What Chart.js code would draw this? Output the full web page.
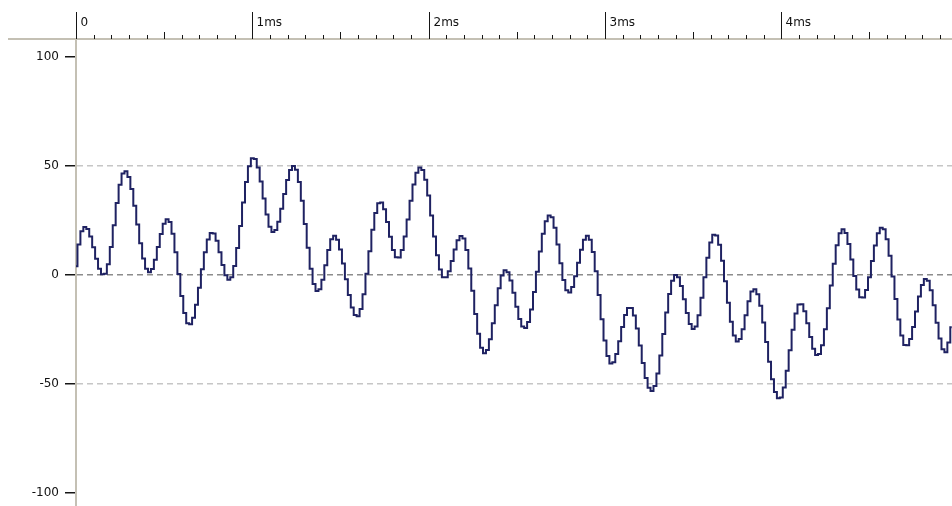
<!DOCTYPE html>
<html>
<head>
<meta charset="utf-8">
<title>Waveform</title>
<script src="https://cdn.jsdelivr.net/npm/chart.js@4.4.1/dist/chart.umd.min.js"></script>
<style>
  html, body { margin: 0; padding: 0; background: #ffffff; }
  canvas { display: block; }
</style>
</head>
<body>
<canvas id="wave" width="952" height="506"></canvas>
<script>
// Sample spacing of the recording, in milliseconds (60 samples per ms).
const sampleStepMs = 1 / 60;

// Sample amplitudes, one array per millisecond of the capture.
const ms0 = [4, 14, 20, 22, 21.1, 17.7, 12.7, 7.4, 2.9, 0.3,
  0.6, 4.9, 12.8, 22.8, 33.0, 41.4, 46.6, 47.6, 44.9, 39.4,
  31.8, 23.1, 14.6, 7.5, 2.8, 1.2, 2.7, 7.0, 12.8, 18.8,
  23.5, 25.6, 24.3, 18.9, 10.4, 0.4, -9.6, -17.5, -22.1, -22.6,
  -19.6, -13.7, -5.9, 2.6, 10.4, 16.3, 19.3, 19.0, 15.7, 10.4,
  4.6, -0.1, -2.2, -1.0, 4.1, 12.4, 22.5, 33.2, 42.7, 49.9];
const ms1 = [53.5, 53.2, 49.3, 42.9, 35.1, 27.7, 22.1, 19.7, 20.6, 24.4,
  30.4, 37.2, 43.6, 48.1, 50.0, 48.3, 42.7, 34.0, 23.4, 12.5,
  2.9, -4.1, -7.4, -6.6, -2.2, 4.5, 11.4, 16.4, 18.0, 16.2,
  11.7, 5.3, -2.0, -9.2, -14.9, -18.4, -18.9, -15.6, -8.8, 0.5,
  10.9, 20.7, 28.4, 32.9, 33.3, 30.1, 24.3, 17.5, 11.5, 8.1,
  8.0, 11.4, 17.6, 25.5, 34.0, 41.5, 46.9, 49.3, 48.2, 43.7];
const ms2 = [36.4, 27.3, 17.7, 9.0, 2.5, -1.0, -1.1, 1.7, 6.4, 11.7,
  15.9, 17.9, 16.7, 11.4, 3.0, -7.3, -17.9, -27.0, -33.4, -35.9,
  -34.4, -29.5, -22.2, -13.9, -6.1, -0.3, 2.2, 1.3, -2.5, -8.2,
  -14.6, -20.2, -23.7, -24.3, -21.6, -15.9, -7.8, 1.5, 10.8, 18.9,
  24.6, 27.3, 26.5, 21.7, 14.0, 5.4, -2.3, -7.0, -8.0, -5.5,
  -0.6, 5.6, 11.6, 16.1, 18.0, 16.2, 10.5, 1.7, -9.2, -20.3];
const ms3 = [-30.1, -37.2, -40.6, -40.0, -36.3, -30.4, -23.9, -18.4, -15.2, -15.2,
  -18.6, -24.6, -32.4, -40.4, -47.3, -51.8, -53.2, -50.9, -45.2, -36.9,
  -27.1, -17.2, -8.7, -2.7, 0, -1.1, -5.1, -11.2, -17.5, -22.5,
  -24.8, -23.6, -18.5, -10.5, -1.1, 7.9, 14.9, 18.4, 18.1, 13.9,
  6.5, -2.9, -12.8, -21.5, -27.8, -30.5, -29.4, -24.9, -18.5, -12.1,
  -7.6, -6.5, -8.8, -14.1, -21.8, -30.7, -39.8, -47.8, -53.7, -56.6];
const ms4 = [-56.2, -51.6, -43.9, -34.5, -25.1, -17.7, -13.6, -13.4, -16.6, -22.1,
  -28.5, -33.8, -36.7, -36.3, -32.2, -24.9, -15.3, -4.8, 5.2, 13.6,
  19.1, 21.0, 19.2, 14.2, 7.1, -0.5, -6.7, -10.2, -10.3, -6.9,
  -1.0, 6.4, 13.5, 19.1, 21.7, 21.0, 16.4, 8.8, -0.7, -11.0,
  -20.4, -27.8, -32.1, -32.3, -29.4, -23.9, -16.8, -9.9, -4.6, -1.9,
  -2.7, -7.0, -13.9, -21.9, -29.1, -34.1, -35.5, -31.0, -24.0];

// Axis labels
const timeLabels = ['0', '1ms', '2ms', '3ms', '4ms'];
const ampTicks = [100, 50, 0, -50, -100];

const samples = [].concat(ms0, ms1, ms2, ms3, ms4);
const points = samples.map((v, i) => ({ x: i * sampleStepMs, y: v }));

const FONT = '"DejaVu Sans", "Liberation Sans", sans-serif';
const AXIS_GREY = '#c4c0b4';

// Time ruler along the top edge: base line, ms ticks with labels, 0.1 ms sub-ticks.
const timeRuler = {
  id: 'timeRuler',
  afterDraw(chart) {
    const { ctx } = chart;
    const xs = chart.scales.x;
    const yTop = chart.chartArea.top;
    ctx.save();
    ctx.strokeStyle = AXIS_GREY;
    ctx.lineWidth = 2;
    ctx.beginPath();
    ctx.moveTo(8, yTop - 1);
    ctx.lineTo(chart.width, yTop - 1);
    ctx.stroke();

    ctx.strokeStyle = '#151515';
    ctx.lineWidth = 1;
    ctx.font = '12px ' + FONT;
    ctx.fillStyle = '#111111';
    ctx.textBaseline = 'alphabetic';
    ctx.textAlign = 'left';
    for (let k = 0; k * 0.1 <= xs.max + 1e-9; k++) {
      const px = Math.round(xs.getPixelForValue(k / 10)) + 0.5;
      let y0;
      if (k % 10 === 0) y0 = 12;
      else if (k % 5 === 0) y0 = 32;
      else y0 = 35;
      ctx.beginPath();
      ctx.moveTo(px, y0);
      ctx.lineTo(px, yTop - 1);
      ctx.stroke();
      if (k % 10 === 0 && timeLabels[k / 10] !== undefined) {
        ctx.fillText(timeLabels[k / 10], px + 4, 26);
      }
    }
    ctx.restore();
  }
};

new Chart(document.getElementById('wave'), {
  type: 'line',
  data: {
    datasets: [{
      data: points,
      borderColor: '#1f2262',
      borderWidth: 2,
      pointRadius: 0,
      stepped: 'middle',
      fill: false
    }]
  },
  options: {
    responsive: false,
    animation: false,
    devicePixelRatio: 1,
    layout: { padding: { top: 40, left: 0, right: 0, bottom: 0 } },
    plugins: { legend: { display: false }, tooltip: { enabled: false } },
    scales: {
      x: {
        type: 'linear',
        min: 0,
        max: 4.968,
        display: false
      },
      y: {
        type: 'linear',
        min: -106,
        max: 107.8,
        afterFit(scale) {
          scale.width = 76;
          scale.paddingTop = 0;
          scale.paddingBottom = 0;
        },
        afterBuildTicks(scale) { scale.ticks = ampTicks.map(v => ({ value: v })); },
        ticks: {
          color: '#111111',
          padding: 6,
          font: { family: FONT, size: 12 }
        },
        grid: {
          drawOnChartArea: true,
          drawTicks: true,
          tickLength: 11,
          tickColor: '#151515',
          tickWidth: 1.5,
          lineWidth: 1.5,
          color(ctx) {
            const v = ctx.tick ? ctx.tick.value : null;
            if (v === 0) return '#8c8c8c';
            if (v === 50 || v === -50) return '#c6c6c6';
            return 'rgba(0,0,0,0)';
          }
        },
        border: {
          display: true,
          color: AXIS_GREY,
          width: 2,
          dash: [6, 4]
        }
      }
    }
  },
  plugins: [timeRuler]
});
</script>
</body>
</html>
